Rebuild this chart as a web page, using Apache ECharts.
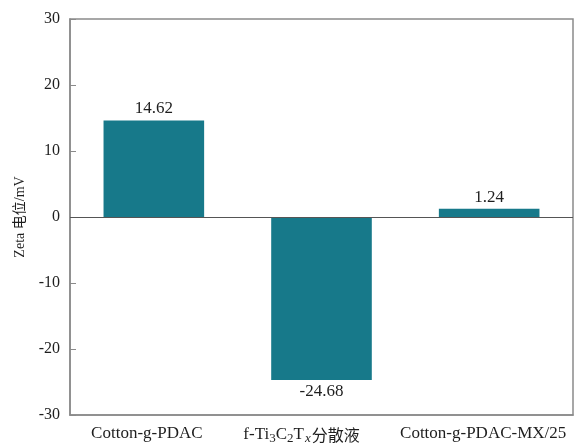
<!DOCTYPE html>
<html>
<head>
<meta charset="utf-8">
<script src="https://cdn.jsdelivr.net/npm/echarts@6/dist/echarts.min.js"></script>
<style>
  html, body { margin: 0; padding: 0; background: #fff; }
  #chart { width: 578px; height: 447px; }
</style>
</head>
<body>
<div id="chart"></div>
<script>
// Samples and their zeta potentials (mV)
const categories = ['Cotton-g-PDAC', 'f-Ti3C2Tx分散液', 'Cotton-g-PDAC-MX/25'];
const zetaValues = [14.62, -24.68, 1.24];
const yTicks = { min: -30, max: 30, interval: 10 };

const serif = '"Liberation Serif", "Times New Roman", "Noto Sans CJK SC", serif';
const barColor = '#17798a';
const frameColor = '#8a8a8a';
const textColor = '#1e1e1e';

const chart = echarts.init(document.getElementById('chart'));

// Category label with chemical subscripts for the MXene dispersion;
// a trailing gap nudges each label slightly left of its tick.
function categoryLabel(value) {
  if (value === 'f-Ti3C2Tx分散液') {
    return '{n|f-Ti}{s|3}{n|C}{s|2}{n|T}{si|x}{c|分散液}{gapL|}';
  }
  if (value === 'Cotton-g-PDAC') {
    return '{n|' + value + '}{gapS|}';
  }
  return '{n|' + value + '}{gapM|}';
}

chart.setOption({
  animation: false,
  grid: {
    left: 70, right: 5, top: 19, bottom: 32,
    show: true, borderColor: frameColor, borderWidth: 1.5
  },
  xAxis: {
    type: 'category',
    data: categories,
    axisLine: { onZero: false, lineStyle: { color: frameColor, width: 1.5 } },
    axisTick: { alignWithLabel: true, inside: true, length: 5, lineStyle: { color: frameColor } },
    axisLabel: {
      margin: 10,
      interval: 0,
      color: textColor,
      formatter: categoryLabel,
      rich: {
        n: { fontFamily: serif, fontSize: 17, color: textColor },
        s: { fontFamily: serif, fontSize: 13, color: textColor, verticalAlign: 'bottom', padding: [7, 0, 0, 0] },
        si: { fontFamily: serif, fontSize: 13, fontStyle: 'italic', color: textColor, verticalAlign: 'bottom', padding: [7, 0, 0, 1] },
        c: { fontFamily: '"Noto Sans CJK SC", serif', fontSize: 16, color: textColor, padding: [0, 0, 0, 1] },
        gapS: { width: 14 },
        gapM: { width: 12 },
        gapL: { width: 40 }
      }
    }
  },
  yAxis: {
    type: 'value',
    min: yTicks.min, max: yTicks.max, interval: yTicks.interval,
    name: 'Zeta 电位/mV',
    nameLocation: 'middle',
    nameGap: 42,
    nameTextStyle: { fontFamily: serif, fontSize: 14, color: textColor },
    axisLine: { show: true, lineStyle: { color: frameColor, width: 1.5 } },
    axisTick: { show: true, inside: true, length: 6, lineStyle: { color: frameColor } },
    axisLabel: { fontFamily: serif, fontSize: 16, color: textColor, margin: 10 },
    splitLine: { show: false }
  },
  series: [{
    type: 'bar',
    data: zetaValues,
    barWidth: '60%',
    itemStyle: { color: barColor },
    label: {
      show: true,
      position: 'outside',
      fontFamily: serif,
      fontSize: 17,
      color: textColor,
      distance: 3,
      formatter: p => p.value.toFixed(2)
    },
    markLine: {
      silent: true,
      symbol: 'none',
      label: { show: false },
      lineStyle: { color: '#555', width: 1, type: 'solid' },
      data: [{ yAxis: 0 }]
    }
  }]
});
</script>
</body>
</html>
